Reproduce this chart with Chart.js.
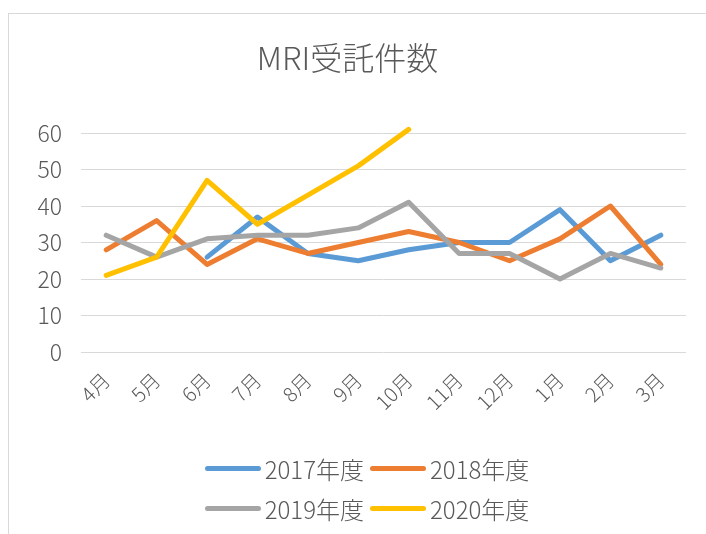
<!DOCTYPE html>
<html>
<head>
<meta charset="utf-8">
<script src="https://cdn.jsdelivr.net/npm/chart.js"></script>
<style>
  html, body { margin: 0; padding: 0; background: #fff; overflow: hidden; }
  body { width: 706px; height: 534px; position: relative; }
  #frame {
    position: absolute; left: 8px; top: 13px;
    border-left: 1px solid #d9d9d9; border-top: 1px solid #d9d9d9;
    width: 706px; height: 530px;
  }
  #wrap { position: absolute; left: 0; top: 0; width: 706px; height: 520px; }
  #legend {
    position: absolute; left: 0; top: 434px; width: 716px;
    display: flex; justify-content: center;
  }
  #legend .grid {
    display: grid; grid-template-columns: auto auto; column-gap: 6px;
  }
  #legend .item {
    display: flex; align-items: center; height: 40px;
    font-family: 'Noto Sans CJK JP', 'Noto Sans', sans-serif;
    font-size: 24px; font-weight: 300; color: #595959;
  }
  #legend .swatch {
    width: 56px; height: 5px; border-radius: 3px; margin-right: 4px;
  }
</style>
</head>
<body>
<div id="frame">
  <div id="wrap"><canvas id="myChart" width="706" height="520"></canvas></div>
  <div id="legend"><div class="grid" id="legendGrid"></div></div>
</div>
<script>
var months = ["4月", "5月", "6月", "7月", "8月", "9月", "10月", "11月", "12月", "1月", "2月", "3月"];
var fy2017 = [null, null, 26, 37, 27, 25, 28, 30, 30, 39, 25, 32];
var fy2018 = [28, 36, 24, 31, 27, 30, 33, 30, 25, 31, 40, 24];
var fy2019 = [32, 26, 31, 32, 32, 34, 41, 27, 27, 20, 27, 23];
var fy2020 = [21, 26, 47, 35, 43, 51, 61, null, null, null, null, null];
var seriesNames = ["2017年度", "2018年度", "2019年度", "2020年度"];
var seriesColors = ["#5B9BD5", "#ED7D31", "#A5A5A5", "#FFC000"];
var yTicks = [0, 10, 20, 30, 40, 50, 60];

var textColor = "#595959";
var fontFamily = "'Noto Sans CJK JP', 'Noto Sans', sans-serif";

var allData = [fy2017, fy2018, fy2019, fy2020];
var datasets = [];
for (var i = 0; i < allData.length; i++) {
  datasets.push({
    label: seriesNames[i],
    data: allData[i],
    borderColor: seriesColors[i],
    backgroundColor: seriesColors[i],
    borderWidth: 5,
    borderCapStyle: "round",
    borderJoinStyle: "round",
    pointRadius: 0,
    pointHoverRadius: 0,
    tension: 0,
    spanGaps: false,
    clip: false,
    order: allData.length - i
  });
}

new Chart("myChart", {
  type: "line",
  data: { labels: months, datasets: datasets },
  options: {
    responsive: false,
    animation: false,
    events: [],
    layout: { padding: { left: 0, right: 29, top: 0, bottom: 112 } },
    plugins: {
      legend: { display: false },
      tooltip: { enabled: false },
      title: {
        display: true,
        text: "MRI受託件数",
        color: textColor,
        font: { family: fontFamily, size: 32, weight: 300, lineHeight: 1.2 },
        padding: { top: 25, bottom: 55.6 }
      }
    },
    scales: {
      x: {
        offset: true,
        grid: { display: false, drawTicks: false },
        border: { display: false },
        afterFit: function (scale) { scale.height = 70; },
        ticks: {
          color: textColor,
          font: { family: fontFamily, size: 20, weight: 300 },
          minRotation: 45,
          maxRotation: 45,
          autoSkip: false,
          padding: 16
        }
      },
      y: {
        min: 0,
        max: 60,
        afterFit: function (scale) { scale.width = 72; },
        afterBuildTicks: function (scale) {
          scale.ticks = yTicks.map(function (v) { return { value: v }; });
        },
        grid: { color: "#d9d9d9", lineWidth: 1, drawTicks: false },
        border: { display: false },
        ticks: {
          color: textColor,
          font: { family: fontFamily, size: 23, weight: 300 },
          padding: 19
        }
      }
    }
  }
});

// legend below the chart, two per row like the original
var lg = document.getElementById("legendGrid");
for (var j = 0; j < seriesNames.length; j++) {
  lg.innerHTML += '<div class="item"><div class="swatch" style="background:' +
    seriesColors[j] + '"></div><span>' + seriesNames[j] + '</span></div>';
}
</script>
</body>
</html>
